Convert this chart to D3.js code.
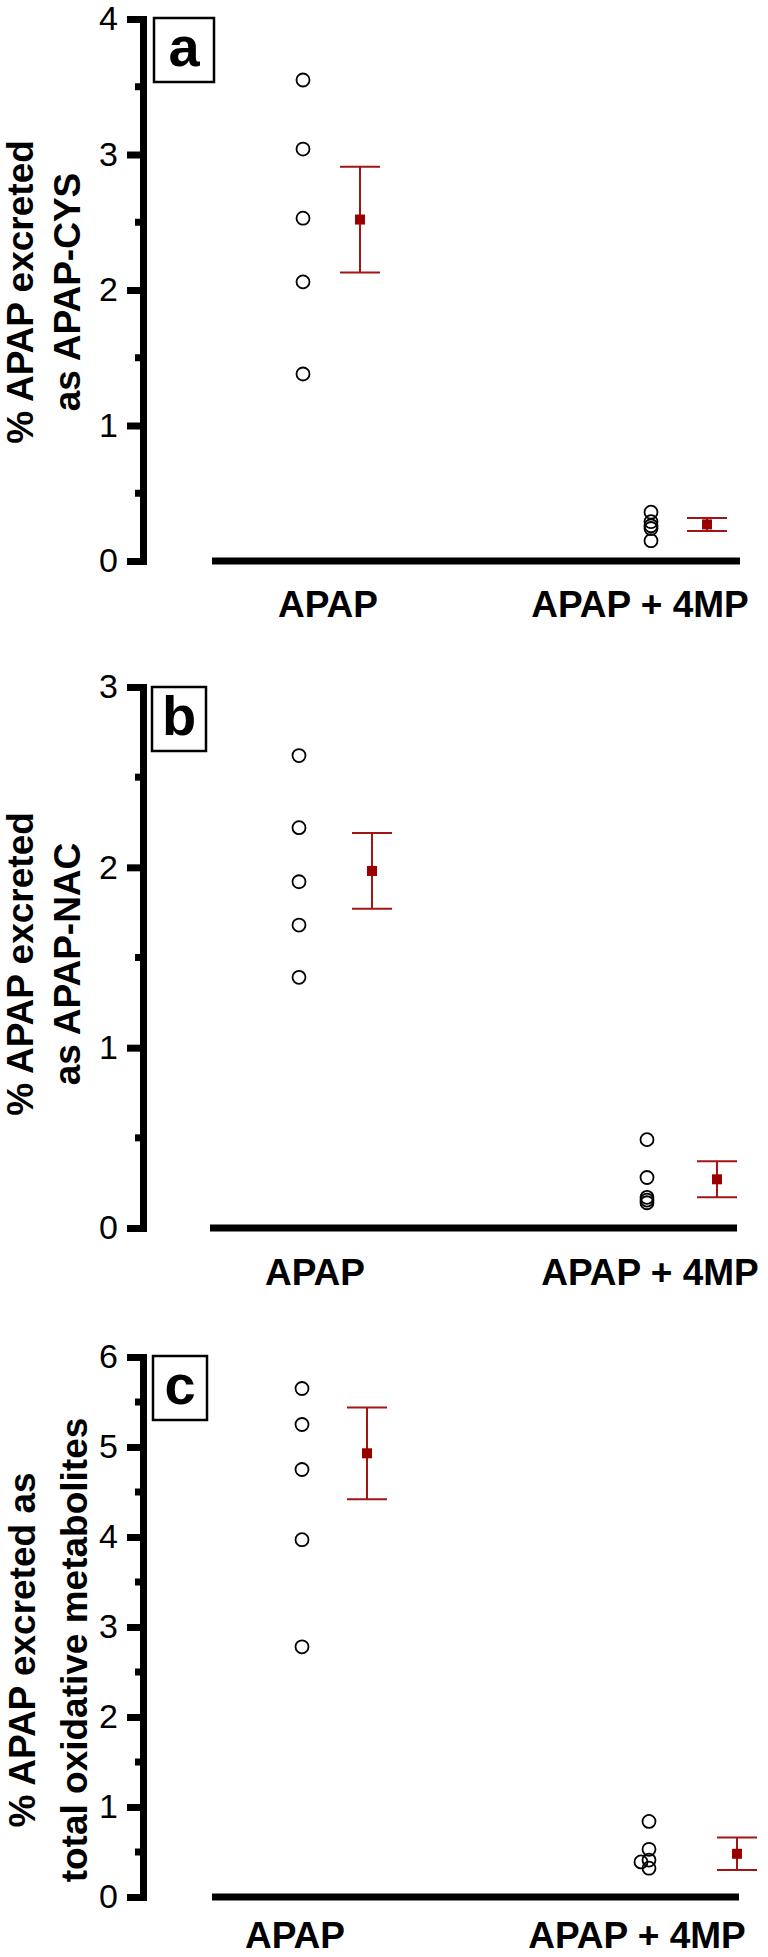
<!DOCTYPE html>
<html>
<head>
<meta charset="utf-8">
<script src="https://cdn.jsdelivr.net/npm/d3@7"></script>
<style>
body { margin: 0; background: #fff; }
text { font-family: "Liberation Sans", Arial, sans-serif; }
</style>
</head>
<body>
<script>
const canvasSizeX = 768;
const canvasSizeY = 1957;

// groups on the x axis
const categories = ["APAP", "APAP + 4MP"];
const panelLetters = ["a", "b", "c"];
const yTitles = [
    ["% APAP excreted", "as APAP-CYS"],
    ["% APAP excreted", "as APAP-NAC"],
    ["% APAP excreted as", "total oxidative metabolites"]
];
const yMax = [4, 3, 6];

// a: APAP-CYS, individual animals and mean +/- SEM
const cysApap = [3.55, 3.04, 2.53, 2.06, 1.38];
const cysApap4mp = [0.36, 0.29, 0.26, 0.24, 0.15];
const cysMean = [2.52, 0.27];
const cysSem = [0.39, 0.048];

// b: APAP-NAC
const nacApap = [2.62, 2.22, 1.92, 1.68, 1.39];
const nacApap4mp = [0.49, 0.28, 0.17, 0.155, 0.14];
const nacMean = [1.98, 0.27];
const nacSem = [0.21, 0.10];

// c: total oxidative metabolites
const oxApap = [5.65, 5.25, 4.75, 3.97, 2.78];
const oxApap4mp = [0.84, 0.53, 0.41, 0.39, 0.32];
const oxMean = [4.93, 0.48];
const oxSem = [0.51, 0.18];

const dotsByPanel = [[cysApap, cysApap4mp], [nacApap, nacApap4mp], [oxApap, oxApap4mp]];
const meanByPanel = [cysMean, nacMean, oxMean];
const semByPanel = [cysSem, nacSem, oxSem];

// page layout of each panel (pixels)
const layouts = [
    { top: 19, bottom: 561, xAxis: [212, 740], dotX: [303, 651], meanX: [360, 707], labelX: [328, 640],
      labelDy: 56, box: [154, 18, 60, 64], titleY: 292, titleX: [33, 80] },
    { top: 687, bottom: 1228, xAxis: [210, 737], dotX: [299, 647], meanX: [372, 717], labelX: [315, 650],
      labelDy: 57, box: [152, 687, 54, 64], titleY: 964, titleX: [33, 80] },
    { top: 1357, bottom: 1897, xAxis: [212, 739], dotX: [302, 649], meanX: [367, 737], labelX: [295, 637],
      labelDy: 51, box: [153, 1356, 54, 64], titleY: 1650, titleX: [35, 87] }
];

const axisX = 143;
const red = "#a31515";

let canvas = d3.select("body")
    .append("svg")
    .attr("width", canvasSizeX)
    .attr("height", canvasSizeY);

const main = () => {
    for (let i = 0; i < layouts.length; i++) {
        drawPanel(i);
    }
}

const drawPanel = (i) => {
    let lay = layouts[i];
    let g = canvas.append("g");

    let y = d3.scaleLinear().domain([0, yMax[i]]).range([lay.bottom, lay.top]);
    let xDots = d3.scalePoint().domain(categories).range(lay.dotX);
    let xMeans = d3.scalePoint().domain(categories).range(lay.meanX);
    let xLabels = d3.scalePoint().domain(categories).range(lay.labelX);

    // y axis with major ticks
    let yAxis = d3.axisLeft(y)
        .tickValues(d3.range(0, yMax[i] + 1))
        .tickFormat(d3.format("d"))
        .tickSizeInner(16)
        .tickSizeOuter(0)
        .tickPadding(9);

    let ga = g.append("g")
        .attr("transform", `translate(${axisX},0)`)
        .call(yAxis);
    ga.attr("font-size", 34).attr("font-family", null);
    ga.select(".domain")
        .attr("stroke", "#000")
        .attr("stroke-width", 7)
        .attr("stroke-linecap", "square");
    ga.selectAll(".tick line").attr("stroke", "#000").attr("stroke-width", 7);
    ga.selectAll(".tick text").attr("fill", "#000");

    // minor ticks halfway
    g.selectAll(".minor")
        .data(d3.range(0.5, yMax[i], 1))
        .enter()
        .append("line")
        .attr("x1", axisX - 8)
        .attr("x2", axisX)
        .attr("y1", d => y(d))
        .attr("y2", d => y(d))
        .attr("stroke", "#000")
        .attr("stroke-width", 7);

    // x baseline
    g.append("line")
        .attr("x1", lay.xAxis[0])
        .attr("x2", lay.xAxis[1])
        .attr("y1", y(0))
        .attr("y2", y(0))
        .attr("stroke", "#000")
        .attr("stroke-width", 7);

    // category labels
    categories.forEach(cat => {
        g.append("text")
            .attr("x", xLabels(cat))
            .attr("y", y(0) + lay.labelDy)
            .attr("text-anchor", "middle")
            .attr("font-size", 37)
            .attr("font-weight", "bold")
            .text(cat);
    });

    // individual values
    categories.forEach((cat, c) => {
        let placed = placeDots(dotsByPanel[i][c], y);
        placed.forEach(p => {
            g.append("circle")
                .attr("cx", xDots(cat) + p.dx)
                .attr("cy", p.cy)
                .attr("r", 6.5)
                .attr("fill", "none")
                .attr("stroke", "#000")
                .attr("stroke-width", 1.8);
        });
    });

    // mean +/- SEM
    categories.forEach((cat, c) => {
        let m = meanByPanel[i][c];
        let s = semByPanel[i][c];
        let cx = xMeans(cat);
        g.append("line")
            .attr("x1", cx).attr("x2", cx)
            .attr("y1", y(m - s)).attr("y2", y(m + s))
            .attr("stroke", red).attr("stroke-width", 2);
        [m - s, m + s].forEach(v => {
            g.append("line")
                .attr("x1", cx - 20).attr("x2", cx + 20)
                .attr("y1", y(v)).attr("y2", y(v))
                .attr("stroke", red).attr("stroke-width", 2);
        });
        g.append("rect")
            .attr("x", cx - 5)
            .attr("y", y(m) - 5)
            .attr("width", 10)
            .attr("height", 10)
            .attr("fill", "#9b0000");
    });

    // y title, two rotated lines
    yTitles[i].forEach((line, k) => {
        g.append("text")
            .attr("transform", "rotate(-90)")
            .attr("x", -lay.titleY)
            .attr("y", lay.titleX[k])
            .attr("text-anchor", "middle")
            .attr("font-size", 37)
            .attr("font-weight", "bold")
            .text(line);
    });

    // panel letter in a box
    let b = lay.box;
    g.append("rect")
        .attr("x", b[0]).attr("y", b[1])
        .attr("width", b[2]).attr("height", b[3])
        .attr("fill", "#fff")
        .attr("stroke", "#000")
        .attr("stroke-width", 2.5);
    g.append("text")
        .attr("x", b[0] + b[2] / 2)
        .attr("y", b[1] + 48)
        .attr("text-anchor", "middle")
        .attr("font-size", 56)
        .attr("font-weight", "bold")
        .text(panelLetters[i]);
}

// values closer than 2px to an earlier dot get pushed a bit to the left
const placeDots = (values, yScale) => {
    let placed = [];
    values.forEach(v => {
        let cy = yScale(v);
        let clash = placed.some(p => p.dx === 0 && Math.abs(p.cy - cy) < 2);
        placed.push({ v: v, cy: cy, dx: clash ? -8 : 0 });
    });
    return placed;
}

window.addEventListener("load", main);
</script>
</body>
</html>
